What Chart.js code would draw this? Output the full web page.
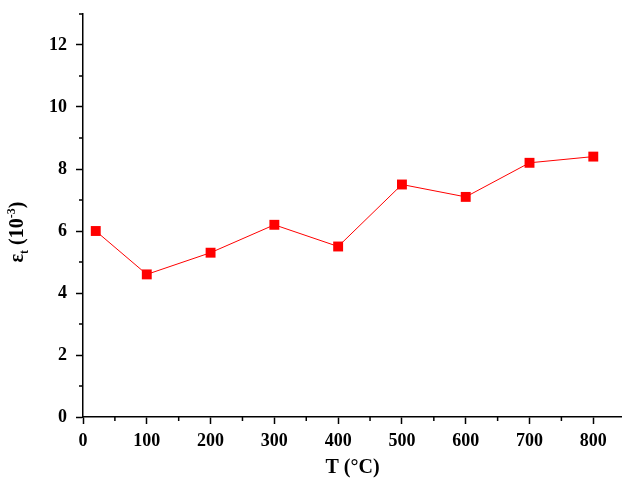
<!DOCTYPE html>
<html>
<head>
<meta charset="utf-8">
<script src="https://cdn.jsdelivr.net/npm/chart.js@4"></script>
<style>
  html, body { margin: 0; padding: 0; background: #fff; overflow: hidden; }
  canvas { display: block; }
</style>
</head>
<body>
<canvas id="chart" width="622" height="484"></canvas>
<script>
// temperatures (°C) and strain values (10^-3)
const temps = [20, 100, 200, 300, 400, 500, 600, 700, 800];
const strain = [6.0, 4.6, 5.3, 6.2, 5.5, 7.5, 7.1, 8.2, 8.4];
const xMinorTicks = [50, 150, 250, 350, 450, 550, 650, 750];
const yMinorTicks = [1, 3, 5, 7, 9, 11, 13];

const fontFamily = '"Liberation Serif", "Times New Roman", serif';

// minor ticks and the y title with sub/superscript
const extras = {
    id: 'extras',
    afterDraw(chart) {
        let ctx = chart.ctx;
        let xs = chart.scales.x;
        let ys = chart.scales.y;
        ctx.save();
        ctx.strokeStyle = '#000';
        ctx.lineWidth = 1.5;
        xMinorTicks.forEach(v => {
            let px = xs.getPixelForValue(v);
            ctx.beginPath();
            ctx.moveTo(px, ys.bottom);
            ctx.lineTo(px, ys.bottom + 4);
            ctx.stroke();
        });
        yMinorTicks.forEach(v => {
            let py = ys.getPixelForValue(v);
            ctx.beginPath();
            ctx.moveTo(xs.left, py);
            ctx.lineTo(xs.left - 4, py);
            ctx.stroke();
        });

        // y axis title
        ctx.translate(23, 232);
        ctx.rotate(-Math.PI / 2);
        ctx.fillStyle = '#000';
        ctx.textBaseline = 'alphabetic';
        ctx.textAlign = 'left';
        let parts = [
            { t: '\u03b5', size: 20, dy: 0 },
            { t: 't', size: 12, dy: 5 },
            { t: ' (10', size: 20, dy: 0 },
            { t: '-3', size: 12, dy: -8 },
            { t: ')', size: 20, dy: 0 }
        ];
        let total = 0;
        parts.forEach(p => {
            ctx.font = 'bold ' + p.size + 'px ' + fontFamily;
            p.w = ctx.measureText(p.t).width;
            total += p.w;
        });
        let x = -total / 2;
        parts.forEach(p => {
            ctx.font = 'bold ' + p.size + 'px ' + fontFamily;
            ctx.fillText(p.t, x, p.dy);
            x += p.w;
        });
        ctx.restore();
    }
};

new Chart(document.getElementById('chart'), {
    type: 'line',
    data: {
        datasets: [{
            data: temps.map((t, i) => ({ x: t, y: strain[i] })),
            borderColor: '#ff0000',
            backgroundColor: '#ff0000',
            borderWidth: 1,
            pointStyle: 'rect',
            pointRadius: 7,
            pointHoverRadius: 7,
            pointBorderWidth: 0,
            tension: 0
        }]
    },
    options: {
        responsive: false,
        animation: false,
        layout: { autoPadding: false, padding: { top: 14, right: 0, left: 0, bottom: 0 } },
        plugins: {
            legend: { display: false },
            tooltip: { enabled: false }
        },
        scales: {
            x: {
                type: 'linear',
                min: 0,
                max: 845,
                afterFit: s => { s.height = 67; s.paddingLeft = 0; s.paddingRight = 0; },
                border: { color: '#000', width: 1.5 },
                grid: { drawOnChartArea: false, drawTicks: true, tickLength: 7, tickColor: '#000', tickWidth: 1.5 },
                ticks: {
                    stepSize: 100,
                    includeBounds: false,
                    color: '#000',
                    padding: 7,
                    maxRotation: 0,
                    font: { family: fontFamily, size: 18, weight: 'bold' }
                },
                title: {
                    display: true,
                    text: 'T (\u00b0C)',
                    color: '#000',
                    padding: { top: 5 },
                    font: { family: fontFamily, size: 20, weight: 'bold' }
                }
            },
            y: {
                min: 0,
                max: 13,
                afterFit: s => { s.width = 83; s.paddingTop = 0; s.paddingBottom = 0; },
                border: { color: '#000', width: 1.5 },
                grid: { drawOnChartArea: false, drawTicks: true, tickLength: 7, tickColor: '#000', tickWidth: 1.5 },
                ticks: {
                    stepSize: 2,
                    includeBounds: false,
                    color: '#000',
                    padding: 9,
                    font: { family: fontFamily, size: 18, weight: 'bold' }
                }
            }
        }
    },
    plugins: [extras]
});
</script>
</body>
</html>
